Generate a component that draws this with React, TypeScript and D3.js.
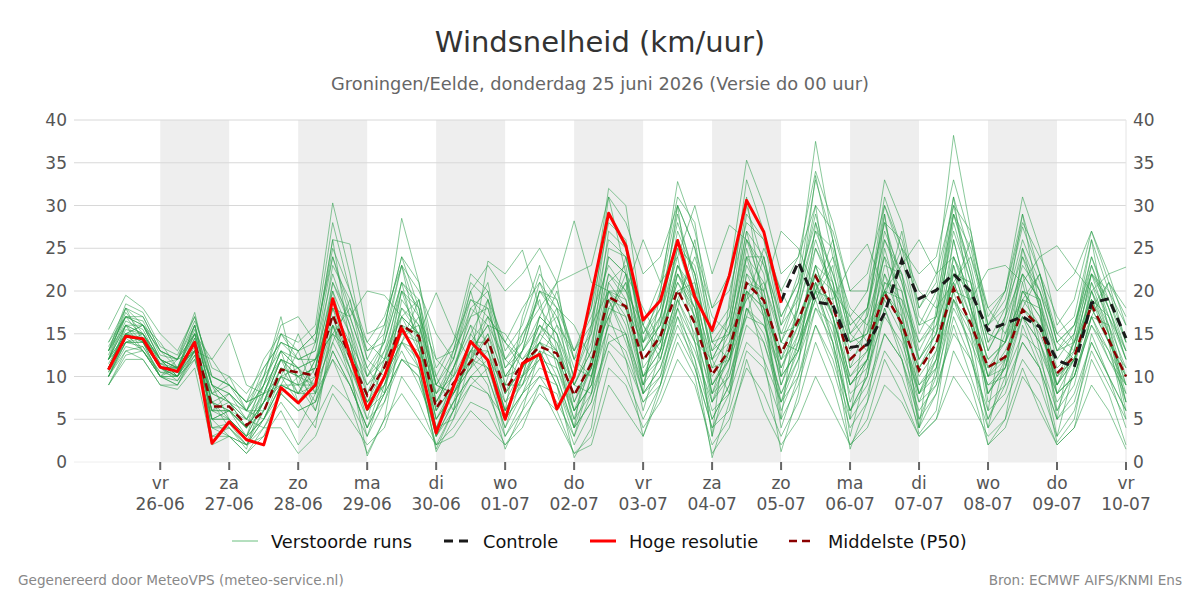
import React, { useEffect, useRef } from "react";
import * as d3 from "d3";

// dag-labels onder de x-as
const weekdagen = ["vr", "za", "zo", "ma", "di", "wo", "do", "vr", "za", "zo", "ma", "di", "wo", "do", "vr"];
const datums = ["26-06", "27-06", "28-06", "29-06", "30-06", "01-07", "02-07", "03-07", "04-07", "05-07", "06-07", "07-07", "08-07", "09-07", "10-07"];

const yTicks = [0, 5, 10, 15, 20, 25, 30, 35, 40];

// Hoge resolutie, 6-uurlijks vanaf 25-06 06 uur
const hogeResolutie = [
  10.8, 14.7, 14.4, 11.1, 10.6, 14.0, 2.2, 4.7, 2.6, 2.0, 8.7, 6.9, 9.0, 19.1, 12.5, 6.2, 10.0, 15.6, 12.1, 3.4,
  8.8, 14.1, 11.9, 5.0, 11.5, 12.6, 6.2, 10.0, 19.5, 29.1, 25.3, 16.6, 18.9, 25.9, 19.3, 15.4, 21.8, 30.6, 26.9, 18.6,
];

// Middelste (P50)
const middelste = [
  10.8, 14.7, 14.4, 11.1, 10.6, 14.0, 6.5, 6.5, 4.3, 5.9, 10.8, 10.5, 10.1, 17.2, 12.3, 7.8, 11.1, 16.0, 14.7, 6.3,
  9.2, 11.7, 14.3, 8.4, 11.5, 13.5, 12.7, 7.8, 11.5, 19.3, 18.2, 11.9, 14.7, 20.1, 16.2, 10.2, 13.1, 20.9, 18.9, 12.7,
  16.6, 21.7, 18.2, 12.0, 13.9, 19.7, 16.2, 10.7, 13.9, 20.3, 16.2, 11.1, 12.3, 17.8, 15.8, 10.4, 12.3, 18.4, 14.3, 10.0,
];

// Controle, vanaf 05-07 00 uur (index 39)
const controleStart = 39;
const controle = [
  18.8, 23.4, 18.7, 18.4, 13.4, 13.7, 17.4, 23.6, 19.1, 20.1, 22.0, 19.9, 15.4, 16.2, 17.0, 15.8, 11.9, 11.1, 18.6, 19.1, 14.5,
];

// Verstoorde runs
const runs: number[][] = [
  [12, 16, 15, 12, 11, 15, 8, 7, 5, 7, 12, 11, 12, 20, 15, 9, 12, 18, 16, 7, 10, 14, 17, 10, 13, 16, 14, 9, 14, 22, 20, 13, 16, 23, 18, 11, 15, 24, 21, 14, 18, 25, 20, 13, 15, 22, 18, 12, 15, 24, 18, 12, 14, 20, 17, 11, 13, 20, 16, 11],
  [10, 13, 13.5, 10, 9.5, 12.5, 4, 4.5, 2, 4, 8, 6, 7, 13, 9, 4, 8, 12, 10, 3, 6, 9, 11, 5, 8, 10, 9, 4, 7, 15, 13, 7, 10, 16, 12, 5, 9, 16, 14, 8, 12, 18, 14, 6, 9, 15, 12, 5, 8, 17, 12, 6, 8, 14, 11, 5, 7, 14, 10, 6],
  [13, 18, 17, 13, 12, 16, 9, 8, 6, 9, 15, 14, 16, 30.3, 22, 12, 16, 24, 18, 9, 12, 18, 20, 12, 15, 18, 15, 10, 16, 26, 24, 15, 19, 28, 22, 12, 16, 27, 24, 16, 22, 37.5, 26, 16, 18, 26, 21, 14, 17, 30, 22, 14, 18, 24, 20, 13, 16, 23, 18, 13],
  [11, 15, 14, 11, 10, 14, 6, 6, 4, 6, 11, 10, 9, 17, 12, 7, 11, 16, 15, 6, 9, 12, 15, 8, 11, 14, 13, 8, 11, 19, 18, 12, 15, 21, 17, 10, 13, 21, 19, 13, 17, 22, 18, 12, 14, 20, 16, 11, 14, 21, 16, 11, 12, 18, 15, 10, 12, 18, 14, 10],
  [9, 12, 12, 9, 9, 13, 3, 3, 1, 3, 6, 2, 5, 9, 7, 1, 5, 8, 5, 2, 4, 7, 6, 2, 5, 8, 6, 1, 3, 11, 9, 4, 7, 12, 9, 2, 5, 11, 8, 3, 7, 14, 9, 2, 5, 12, 8, 3, 5, 13, 9, 2, 4, 10, 7, 2, 4, 12, 8, 2],
  [15.5, 19.5, 18, 15, 13, 17, 10, 9, 7, 10, 16, 17, 14, 25, 20, 14, 17, 23, 20, 15, 12, 20, 23, 20, 22, 25, 21, 22, 23, 31, 28, 22, 24, 30, 25, 18, 20, 28, 26, 20, 24, 30, 27, 20, 22, 30, 25, 22, 24, 33, 26, 18, 20, 28, 24, 20, 22, 27, 21, 18],
  [10, 14, 14, 11, 10, 13, 7, 5, 3, 5, 10, 9, 10, 18, 14, 6, 10, 15, 14, 5, 8, 11, 13, 6, 10, 13, 12, 6, 9, 18, 17, 10, 12, 19, 15, 8, 10, 17, 16, 11, 15, 21, 17, 10, 12, 19, 15, 9, 11, 19, 15, 9, 11, 17, 14, 8, 10, 17, 13, 9],
  [12, 15, 16, 13, 11, 13, 10, 9, 7, 8, 9, 8, 12, 15, 18, 14, 12, 14, 17, 12, 10, 13, 16, 15, 12, 14, 18, 16, 12, 17, 22, 18, 14, 19, 24, 17, 15, 19, 25, 20, 16, 20, 24, 18, 16, 20, 25, 20, 18, 21, 24, 18, 15, 19, 22, 17, 14, 18, 21, 17],
  [9, 13, 12, 9, 8.5, 11, 2, 3, 1, 4, 4, 1, 3, 8, 5, 2, 4, 10, 7, 2, 3, 6, 4, 2, 4, 9, 5, 1, 2, 9, 6, 3, 8, 14, 10, 1, 4, 12, 6, 2, 5, 10, 6, 2, 4, 9, 7, 3, 5, 10, 7, 3, 5, 11, 6, 2, 4, 9, 6, 1.5],
  [14, 18, 16, 12, 11, 16, 9, 8, 6, 11, 14, 13, 14, 26, 25.5, 15, 16, 24, 21, 12, 13, 17, 21, 11, 14, 20, 17, 12, 18, 28, 26, 14, 17, 27, 22, 12, 16, 26, 23, 17, 21, 28, 22, 15, 18, 31, 25, 16, 20, 31, 24, 16, 20, 29, 22, 15, 17, 26, 20, 14],
  [12, 17, 16, 12, 11, 15, 5, 6, 3, 7, 12, 11, 8, 19, 13, 8, 13, 20, 18, 7, 11, 16, 14, 8, 13, 20, 18, 7, 12, 22, 19, 10, 15, 25, 19, 8, 14, 26, 22, 10, 18, 33.5, 24, 14, 15, 27, 22, 11, 15, 26, 18, 12, 14, 22, 19, 10, 14, 23, 17, 10],
  [11, 15.5, 15, 11, 11, 14, 7, 6, 5, 8, 12, 8, 11, 19, 13, 6, 10, 20, 14, 4, 8, 13, 16, 9, 9, 15, 13, 9, 13, 24, 22, 12, 14, 23, 19, 9, 12, 22, 20, 11, 16, 23, 17, 9, 12, 20, 17, 10, 13, 23, 17, 8, 12, 18, 16, 9, 12, 19, 15, 8],
  [10.5, 14, 14, 10, 10, 13.5, 6, 5, 3, 5, 9, 9, 6, 14, 10, 3, 7, 12, 10, 2, 6, 10, 8, 5, 8, 13, 9, 3, 10, 19, 14, 8, 11, 18, 14, 5, 9, 18, 15, 8, 13, 19, 13, 6, 10, 20, 16, 7, 12, 26, 18, 10, 12, 17, 14, 7, 10, 16, 13, 7],
  [13, 17, 16.5, 12.5, 12, 15, 8, 7, 5, 9, 14, 12, 13, 22, 16, 10, 12, 17, 15, 8, 12, 19, 17, 14, 18, 21, 18, 13, 16, 20, 18, 14, 20, 32.8, 27, 18, 22, 35.3, 30, 22, 24, 34, 28, 20, 20, 28, 26, 18, 22, 30, 27, 16, 19, 27.5, 22, 14, 16, 22, 20, 16],
  [10, 14.5, 13, 10, 10, 14, 5, 5, 2.5, 6, 11, 10, 7, 16, 12, 7, 9, 16, 12, 4, 7, 10, 12, 6, 10, 14, 12, 5, 8, 19, 15, 9, 12, 20, 16, 7, 11, 20, 18, 12, 14, 22, 17, 9, 12, 21, 19, 8, 11, 22, 17, 10, 11, 19, 16, 10, 12, 19, 14, 11],
  [12, 16, 15, 12, 10, 15, 12, 15, 9, 8, 10, 15, 10, 18, 17, 20, 19.5, 17, 15, 19.8, 15, 12, 23.5, 22, 24.8, 18, 21, 28.2, 21, 20, 20, 26, 21, 24, 30, 22, 27.7, 26, 20, 27, 25, 20, 19, 23, 25.5, 20, 23, 26, 22, 24, 19, 22.5, 23, 21, 24, 25.3, 22.5, 20, 22, 22.8],
  [11, 15, 14, 11, 10, 14, 3, 4, 2, 6, 10, 7, 4, 16, 11, 0.7, 5, 16, 11, 1.2, 5, 12, 9, 1.5, 6, 13, 9, 0.5, 4, 17, 12, 3, 9, 18, 12, 0.5, 7, 20, 12, 1.2, 8, 21, 14, 1.5, 7, 18, 12, 3.3, 6, 19, 13, 2, 5, 16, 11, 2.3, 5, 15, 10, 4],
  [12, 16.5, 15.5, 11.5, 10.5, 16, 7, 8, 6, 9, 12, 10, 11, 23, 19, 10, 14, 21, 18, 7, 11, 17, 18, 11, 13, 17, 15, 9, 13, 27, 25, 14, 18, 26, 22, 13, 15, 24, 24, 14, 20, 29, 21, 14, 17, 24, 20, 12, 16, 28, 21, 13, 17, 22, 19, 12, 15, 24, 18, 12],
  [10, 13.5, 13, 10, 9, 12.5, 6, 6, 4, 7, 9, 8, 8, 15, 11, 6, 9, 14, 13, 5, 8, 12, 11, 7, 9, 12, 11, 6, 9, 16, 15, 8, 11, 17, 13, 7, 10, 18, 16, 10, 13, 20, 15, 9, 11, 17, 14, 8, 10, 18, 14, 9, 10, 15, 13, 8, 10, 16, 12, 9],
  [13, 17, 17, 13, 12, 17.5, 9, 7, 6, 10, 13, 12, 13, 24, 17, 11, 14, 23, 17, 9, 13, 21, 19, 12, 14, 21, 16, 10, 15, 29, 25, 13, 16, 30, 25, 14, 17, 30, 23, 15, 20, 27, 22, 16, 18, 28, 21, 13, 17, 29, 23, 14, 16, 23, 20, 13, 15, 22, 18, 12],
  [11.5, 15, 14.5, 11, 11, 14, 6, 7, 4, 7, 10, 9, 9, 18, 12, 7, 10, 18, 15, 5, 9, 14, 14, 7, 11, 16, 14, 7, 11, 21, 18, 10, 13, 22, 18, 9, 12, 20, 18, 12, 16, 23, 17, 10, 13, 20, 16, 11, 14, 21, 16, 10, 13, 18, 16, 9, 12, 18, 14, 10],
  [10, 14, 13.5, 10.5, 10, 13, 4, 4, 2, 5, 8, 6, 7, 12, 9, 4, 8, 12, 11, 3, 7, 10, 10, 4, 8, 11, 10, 4, 7, 14, 12, 7, 9, 15, 11, 4, 8, 14, 12, 7, 10, 16, 12, 5, 8, 15, 12, 6, 9, 15, 12, 5, 9, 14, 11, 5, 8, 14, 10, 6],
  [12, 15, 16, 14, 11, 13, 12, 9, 7, 8, 13, 11, 9, 14, 19, 12, 10, 14, 19, 9, 8, 11, 19, 14, 12, 15, 20, 12, 10, 16, 24, 16, 13, 18, 26, 14, 12, 17, 24, 14, 13, 20, 26, 15, 13, 19, 27, 17, 15, 20, 26, 15, 14, 18, 22, 14, 12, 17, 21, 14],
  [13, 18.5, 17.5, 13.5, 12.5, 17, 10, 9, 7, 12, 15, 13, 15, 28, 20, 13, 15, 28.5, 21, 10, 14, 22, 20, 13, 16, 22, 19, 13, 18, 32, 30, 16, 21, 31, 28, 15, 18, 33, 27, 17, 21, 33, 26, 17, 20, 33, 28, 18, 21, 38.2, 27, 17, 20, 31, 25, 16, 19, 27, 22, 16],
  [11, 16, 13, 10, 12, 13, 8, 10, 6, 5, 9, 13, 8, 21, 17, 11, 8, 19, 16, 10, 6, 15, 12, 9, 15, 19, 11, 5, 12, 17, 21, 9, 17, 24, 14, 12, 8, 22, 18, 9, 14, 19, 23, 11, 16, 24, 15, 8, 13, 20, 19, 10, 15, 22, 14, 9, 14, 21, 17, 12],
  [12, 14, 15, 12, 10, 12, 5, 6, 4, 8, 13, 7, 10, 20, 12, 5, 12, 21, 13, 3, 11, 16, 10, 4, 10, 17, 15, 6, 9, 21, 23, 11, 14, 26, 20, 7, 13, 25, 17, 6, 11, 28, 19, 7, 12, 29, 17, 5, 10, 24, 20, 7, 9, 25, 18, 6, 11, 21, 15, 7],
  [13.5, 17, 14.5, 11, 11, 15.5, 9, 5, 3, 9, 15, 12, 12, 16, 14, 10, 13, 17, 13, 8, 10, 18, 16, 12, 10, 12, 16, 13, 17, 23, 20, 16, 12, 20, 21, 13, 17, 27, 19, 12, 18, 26, 20, 17, 14, 23, 22, 16, 17, 27, 21, 13, 17, 25, 20, 15, 13, 22, 19, 14],
  [10, 15, 15, 11, 9.5, 13, 6, 8, 5, 4, 7, 4, 8, 12, 7, 3, 9, 13, 9, 4, 5, 9, 8, 3, 6, 9, 8, 2, 6, 13, 10, 5, 9, 17, 11, 4, 6, 13, 11, 5, 9, 16, 11, 4, 7, 13, 10, 4, 8, 16, 10, 4, 7, 12, 9, 3, 6, 13, 9, 5],
  [12, 18, 14, 10, 11, 16, 7, 6, 4, 10, 17, 9, 14, 26, 14, 6, 15, 23, 14, 6, 13, 20, 13, 6, 17, 23, 13, 4, 16, 31, 22, 8, 20, 30, 16, 3, 19, 31, 18, 5, 20, 30, 17, 5, 18, 29, 15, 4, 18, 31, 18, 6, 17, 29, 18, 5, 15, 26, 15, 6],
  [11, 14, 14.5, 12, 11, 13, 8, 9, 6, 6, 10, 11, 12, 15, 13, 9, 11, 15, 16, 9, 8, 12, 17, 14, 11, 15, 17, 11, 10, 18, 21, 14, 16, 22, 19, 12, 14, 19, 21, 15, 16, 22, 20, 14, 15, 20, 19, 14, 16, 22, 20, 15, 14, 19, 18, 13, 14, 19, 17, 13],
  [10.5, 16, 16, 12, 10, 14.5, 5, 5, 3, 7, 12, 10, 11, 21, 16, 8, 11, 20, 17, 6, 9, 13, 13, 8, 11, 16, 13, 6, 11, 25, 24, 15, 18, 29, 21, 9, 13, 23, 19, 9, 15, 25, 21, 11, 13, 26, 22, 12, 15, 29, 22, 11, 14, 24, 18, 9, 13, 22, 16, 9],
  [12.5, 17.5, 15, 11.5, 11, 14, 4, 3, 2, 5, 9, 8, 9, 16, 10, 5, 7, 14, 12, 3, 7, 13, 11, 6, 9, 14, 10, 4, 10, 20, 16, 8, 10, 19, 14, 6, 8, 18, 14, 7, 12, 20, 14, 6, 10, 18, 13, 7, 9, 20, 13, 5, 10, 17, 12, 6, 9, 17, 12, 8],
  [14, 17, 16, 13, 12, 16.5, 11, 10, 8, 11, 14, 13, 15, 24, 18, 13, 14, 21, 19, 11, 14, 19, 18, 10, 13, 20, 19, 12, 15, 24, 22, 13, 17, 25, 23, 14, 15, 29, 26, 16, 19, 27, 25, 15, 17, 30, 24, 15, 19, 29, 25, 16, 18, 26, 21, 14, 16, 24, 19, 13],
  [11, 15, 13, 10.5, 10.5, 14.5, 7, 4, 1.5, 8, 13, 11, 6, 13, 9, 4, 10, 14, 11, 1.5, 6, 14, 12, 3, 7, 10, 7, 3, 8, 14, 15, 6, 13, 22, 17, 3, 11, 24, 17, 4, 10, 18, 16, 3, 11, 25, 18, 4, 11, 23, 15, 4, 12, 21, 13, 3, 11, 20, 14, 5],
  [9, 12.5, 13, 10, 9, 12, 5, 3, 2, 3, 8, 10, 11, 19, 15, 6, 8, 17, 19, 8, 11, 15, 19, 9, 10, 17, 21, 9, 8, 20, 19, 10, 13, 23, 20, 11, 12, 21, 20, 10, 13, 23, 21, 9, 12, 21, 20, 9, 12, 22, 21, 8, 11, 20, 19, 8, 10, 17, 16, 7],
  [13, 16, 14, 11.5, 12, 15, 9, 7, 4, 7, 11, 8, 12, 17, 11, 7, 9, 16, 14, 4, 9, 11, 15, 10, 11, 14, 12, 8, 11, 20, 17, 9, 15, 21, 18, 8, 12, 20, 17, 7, 14, 21, 16, 8, 10, 22, 16, 8, 12, 19, 16, 8, 11, 20, 17, 8, 12, 20, 15, 9],
];

const W = 1200;
const H = 600;
const FONT = "DejaVu Sans, sans-serif";

export default function App() {
  const ref = useRef<SVGSVGElement>(null);

  useEffect(() => {
    const svg = d3.select(ref.current);
    svg.selectAll("*").remove();

    const left = 74, right = 1126, top = 120, bottom = 462;

    // tijd-as, 6-uurlijkse stappen
    const t0 = new Date(Date.UTC(2026, 5, 24, 18));
    const t1 = new Date(Date.UTC(2026, 6, 10, 0));
    const start = new Date(Date.UTC(2026, 5, 25, 6));
    const tijden = d3.utcHour.every(6)!.range(start, d3.utcHour.offset(t1, 1));
    const dagen = d3.utcDay.range(new Date(Date.UTC(2026, 5, 26)), d3.utcDay.offset(t1, 1));

    const x = d3.scaleUtc().domain([t0, t1]).range([left, right]);
    const y = d3.scaleLinear().domain([0, 40]).range([bottom, top]);

    svg.append("rect").attr("width", W).attr("height", H).attr("fill", "#fff");

    // titel
    svg.append("text").attr("x", 600).attr("y", 52).attr("text-anchor", "middle")
      .attr("font-family", FONT).attr("font-size", 29).attr("fill", "#333")
      .text("Windsnelheid (km/uur)");
    svg.append("text").attr("x", 600).attr("y", 90).attr("text-anchor", "middle")
      .attr("font-family", FONT).attr("font-size", 17.8).attr("fill", "#666")
      .text("Groningen/Eelde, donderdag 25 juni 2026 (Versie do 00 uur)");

    // grijze banden om de dag
    svg.append("g").selectAll("rect")
      .data(dagen.filter((d, i) => i % 2 === 0 && i < dagen.length - 1))
      .enter().append("rect")
      .attr("x", (d) => x(d))
      .attr("y", top)
      .attr("width", (d) => x(d3.utcDay.offset(d, 1)) - x(d))
      .attr("height", bottom - top)
      .attr("fill", "#eeeeee");

    // rasterlijnen
    svg.append("g").selectAll("line").data(yTicks).enter().append("line")
      .attr("x1", left).attr("x2", right)
      .attr("y1", (d) => y(d)).attr("y2", (d) => y(d))
      .attr("stroke", (d) => (d === 0 ? "#eee" : "#d8d8d8")).attr("stroke-width", 1);
    svg.append("line").attr("x1", right).attr("x2", right).attr("y1", top).attr("y2", bottom)
      .attr("stroke", "#e4e4e4");

    // y-labels links en rechts
    const yl = svg.append("g").attr("font-family", FONT).attr("font-size", 17).attr("fill", "#555");
    yl.selectAll("text.l").data(yTicks).enter().append("text").attr("class", "l")
      .attr("x", 67).attr("y", (d) => y(d) + 6).attr("text-anchor", "end").text((d) => d);
    yl.selectAll("text.r").data(yTicks).enter().append("text").attr("class", "r")
      .attr("x", 1133).attr("y", (d) => y(d) + 6).attr("text-anchor", "start").text((d) => d);

    // x-as ticks en labels
    const xa = svg.append("g").attr("font-family", FONT).attr("font-size", 17).attr("fill", "#555");
    xa.selectAll("line").data(dagen).enter().append("line")
      .attr("x1", (d) => x(d)).attr("x2", (d) => x(d))
      .attr("y1", bottom).attr("y2", bottom + 8)
      .attr("stroke", "#666").attr("stroke-width", 2);
    xa.selectAll("text.wd").data(dagen).enter().append("text").attr("class", "wd")
      .attr("x", (d) => x(d)).attr("y", 489).attr("text-anchor", "middle")
      .text((d, i) => weekdagen[i]);
    xa.selectAll("text.dt").data(dagen).enter().append("text").attr("class", "dt")
      .attr("x", (d) => x(d)).attr("y", 510).attr("text-anchor", "middle")
      .text((d, i) => datums[i]);

    const lijn = (offset: number) =>
      d3.line<number>().x((d, i) => x(tijden[i + offset])).y((d) => y(d));

    // verstoorde runs
    svg.append("g").selectAll("path").data(runs).enter().append("path")
      .attr("d", (d) => lijn(0)(d))
      .attr("fill", "none").attr("stroke", "#2a9d48")
      .attr("stroke-opacity", 0.55).attr("stroke-width", 1);

    // P50
    svg.append("path").attr("d", lijn(0)(middelste))
      .attr("fill", "none").attr("stroke", "#8b0000").attr("stroke-width", 2.5)
      .attr("stroke-dasharray", "8,5");

    // controle
    svg.append("path").attr("d", lijn(controleStart)(controle))
      .attr("fill", "none").attr("stroke", "#1a1a1a").attr("stroke-width", 3)
      .attr("stroke-dasharray", "9,6");

    // hoge resolutie
    svg.append("path").attr("d", lijn(0)(hogeResolutie))
      .attr("fill", "none").attr("stroke", "#ff0000").attr("stroke-width", 3)
      .attr("stroke-linejoin", "round");

    // legenda
    const leg = [
      { naam: "Verstoorde runs", kleur: "#6abf7e", breed: 1, dash: "", x: 232 },
      { naam: "Controle", kleur: "#1a1a1a", breed: 3, dash: "9,6", x: 444 },
      { naam: "Hoge resolutie", kleur: "#ff0000", breed: 3, dash: "", x: 590 },
      { naam: "Middelste (P50)", kleur: "#8b0000", breed: 2.5, dash: "8,5", x: 789 },
    ];
    const lg = svg.append("g").selectAll("g").data(leg).enter().append("g");
    lg.append("line").attr("x1", (d) => d.x).attr("x2", (d) => d.x + 26)
      .attr("y1", 541).attr("y2", 541)
      .attr("stroke", (d) => d.kleur).attr("stroke-width", (d) => d.breed)
      .attr("stroke-dasharray", (d) => d.dash);
    lg.append("text").attr("x", (d) => d.x + 39).attr("y", 547.5)
      .attr("font-family", FONT).attr("font-size", 17.8).attr("fill", "#111")
      .text((d) => d.naam);

    // voetregels
    svg.append("text").attr("x", 18).attr("y", 585)
      .attr("font-family", FONT).attr("font-size", 13.6).attr("fill", "#888")
      .text("Gegenereerd door MeteoVPS (meteo-service.nl)");
    svg.append("text").attr("x", 1182).attr("y", 585).attr("text-anchor", "end")
      .attr("font-family", FONT).attr("font-size", 13.6).attr("fill", "#888")
      .text("Bron: ECMWF AIFS/KNMI Ens");
  }, []);

  return (
    <svg ref={ref} width={W} height={H} style={{ position: "absolute", left: 0, top: 0 }} />
  );
}
